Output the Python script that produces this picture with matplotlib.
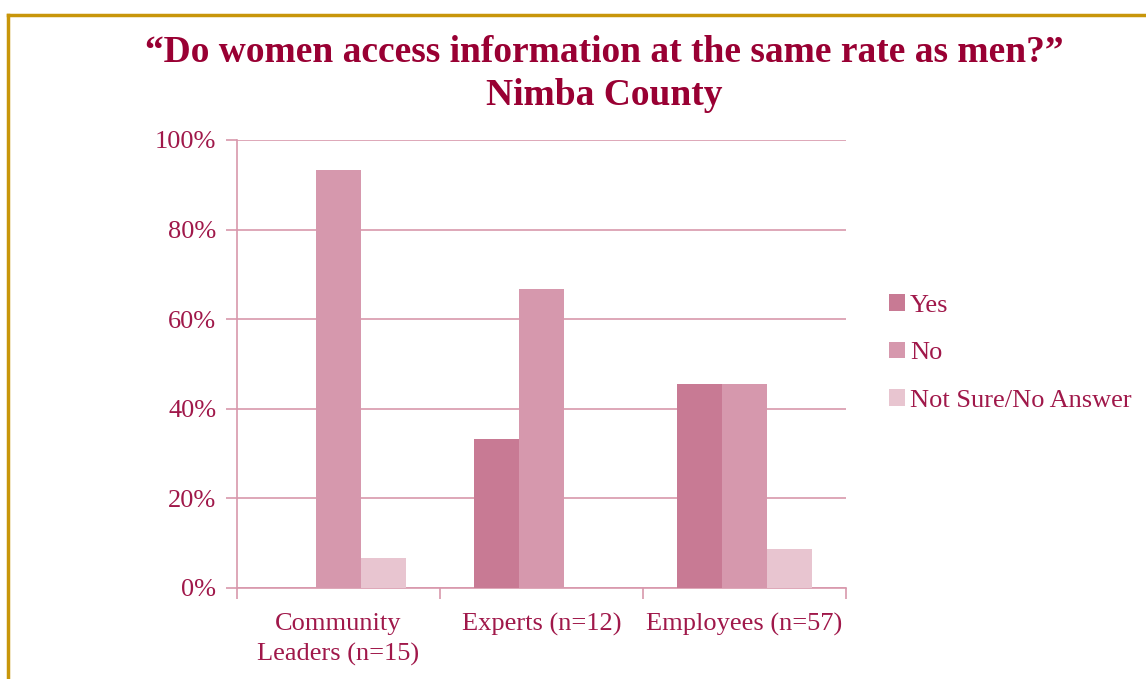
import numpy as np
import matplotlib.pyplot as plt
from matplotlib.lines import Line2D

plt.rcParams['font.family'] = ['Liberation Serif', 'DejaVu Serif']

categories = ['Community\nLeaders (n=15)', 'Experts (n=12)', 'Employees (n=57)']
series = ['Yes', 'No', 'Not Sure/No Answer']
yes = [0.0, 33.3, 45.6]
no = [93.3, 66.7, 45.6]
not_sure = [6.7, 0.0, 8.8]
values = [yes, no, not_sure]
colors = ['#C87A94', '#D698AD', '#E8C5D0']

text_col = '#A0184A'
title_col = '#990033'
line_col = '#D898AC'

fig = plt.figure(figsize=(11.46, 6.79), dpi=100)
ax = fig.add_axes([237 / 1146, 1 - 588 / 679, 609 / 1146, 448 / 679])

x = np.arange(len(categories))
w = 0.222
for i, (vals, c, name) in enumerate(zip(values, colors, series)):
    ax.bar(x + (i - 1) * w, vals, width=w, color=c, label=name, zorder=3)

ax.set_xlim(-0.5, 2.5)
ax.set_ylim(0, 100)
ax.set_yticks(np.arange(0, 101, 20))
ax.set_yticklabels([f'{v}%' for v in range(0, 101, 20)])
ax.yaxis.grid(True, color=line_col, linewidth=1.2, zorder=0)
ax.set_xticks([-0.5, 0.5, 1.5, 2.5])
ax.set_xticklabels([])
ax.set_xticks(x, minor=True)
ax.set_xticklabels(categories, minor=True)
ax.tick_params(axis='x', which='major', length=8, color=line_col, width=1.2)
ax.tick_params(axis='x', which='minor', length=0, pad=18, labelsize=19, labelcolor=text_col)
ax.tick_params(axis='y', length=8, color=line_col, width=1.2, labelsize=19,
               labelcolor=text_col, pad=7)
for lab in ax.get_xticklabels(minor=True):
    lab.set_linespacing(1.45)
for side in ['top', 'right']:
    ax.spines[side].set_visible(False)
for side in ['left', 'bottom']:
    ax.spines[side].set_color(line_col)
    ax.spines[side].set_linewidth(1.2)

leg = ax.legend(loc='center left', bbox_to_anchor=(889 / 1146, 1 - 353 / 679),
                bbox_transform=fig.transFigure, frameon=False, borderpad=0,
                borderaxespad=0, fontsize=19, handlelength=0.6, handleheight=0.6,
                handletextpad=0.2, labelspacing=0.95, labelcolor=text_col)

fig.text(0.5 * (147 + 1062) / 1146, 1 - 74 / 679,
         '\u201cDo women access information at the same rate as men?\u201d\nNimba County',
         ha='center', va='center', fontsize=27, fontweight='bold', color=title_col,
         linespacing=1.3)

# gold frame along the top and left edges
gold = '#C8960A'
fig.add_artist(Line2D([8 / 1146, 8 / 1146], [0, 1 - 15 / 679], color=gold, lw=2.5,
                      transform=fig.transFigure))
fig.add_artist(Line2D([8 / 1146, 1], [1 - 15 / 679, 1 - 15 / 679], color=gold, lw=2.5,
                      transform=fig.transFigure))

fig.savefig('out.png', dpi=100)
